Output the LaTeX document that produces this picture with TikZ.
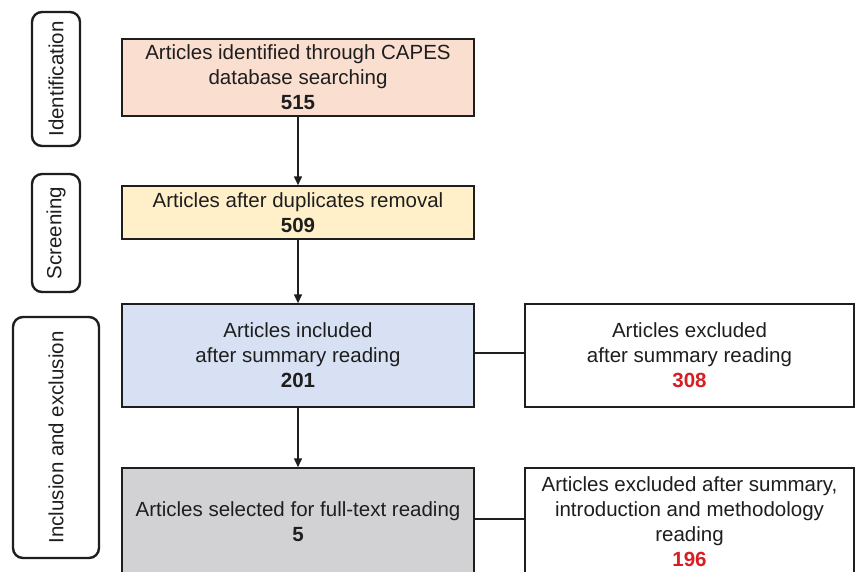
\documentclass[tikz,border=0pt]{standalone}
\usepackage{fontspec}
\setmainfont{Liberation Sans}
\usetikzlibrary{arrows.meta}
\definecolor{ink}{RGB}{30,30,30}
\definecolor{idfill}{RGB}{250,222,208}
\definecolor{scfill}{RGB}{255,240,202}
\definecolor{infill}{RGB}{216,225,244}
\definecolor{selfill}{RGB}{210,209,211}
\definecolor{numred}{RGB}{215,30,35}
\tikzset{
  flowbox/.style={draw=ink, line width=1.5pt, align=center, inner sep=0pt,
    text=ink, font=\fontsize{20.5}{25}\selectfont},
  phasebox/.style={draw=ink, line width=2.4pt, rounded corners=10pt,
    rotate=90, inner sep=0pt, text=ink, font=\fontsize{20.5}{24}\selectfont},
  flowarrow/.style={draw=ink, line width=1.5pt, -{Triangle[length=9pt,width=8pt]}},
  flowlink/.style={draw=ink, line width=2pt},
}
\begin{document}
\begin{tikzpicture}[x=1pt,y=-1pt]
\useasboundingbox (0,0) rectangle (856,571);
\clip (0,0) rectangle (856,571);
\fill[white] (0,0) rectangle (856,571);

% stage labels on the left
\node[phasebox, minimum width=134pt, minimum height=48pt] (ident) at (56,79) {Identification};
\node[phasebox, minimum width=118pt, minimum height=48pt] (screen) at (56,233) {Screening};
\node[phasebox, minimum width=241pt, minimum height=86pt] (incl) at (56,437.5) {Inclusion and exclusion};

% main column
\node[flowbox, fill=idfill, minimum width=352pt, minimum height=77pt] (found) at (298,77.5)
  {Articles identified through CAPES\\ database searching\\ \textbf{515}};
\node[flowbox, fill=scfill, minimum width=352pt, minimum height=53pt] (dedup) at (298,212.5)
  {Articles after duplicates removal\\ \textbf{509}};
\node[flowbox, fill=infill, minimum width=352pt, minimum height=103pt] (incd) at (298,355.5)
  {Articles included\\ after summary reading\\ \textbf{201}};
\node[flowbox, fill=selfill, minimum width=352pt, minimum height=108pt] (sel) at (298,522)
  {Articles selected for full-text reading\\ \textbf{5}};

% exclusions
\node[flowbox, fill=white, minimum width=329pt, minimum height=103pt] (exa) at (689.5,355.5)
  {Articles excluded\\ after summary reading\\ \textcolor{numred}{\textbf{308}}};
\node[flowbox, fill=white, minimum width=329pt, minimum height=108pt] (exb) at (689.5,522)
  {Articles excluded after summary,\\ introduction and methodology\\ reading\\ \textcolor{numred}{\textbf{196}}};

% connectors
\draw[flowarrow] (found.south) -- (dedup.north);
\draw[flowarrow] (dedup.south) -- (incd.north);
\draw[flowarrow] (incd.south) -- (sel.north);
\draw[flowlink] ([yshift=2.5pt]incd.east) -- ([yshift=2.5pt]exa.west);
\draw[flowlink] ([yshift=3pt]sel.east) -- ([yshift=3pt]exb.west);
\end{tikzpicture}
\end{document}
